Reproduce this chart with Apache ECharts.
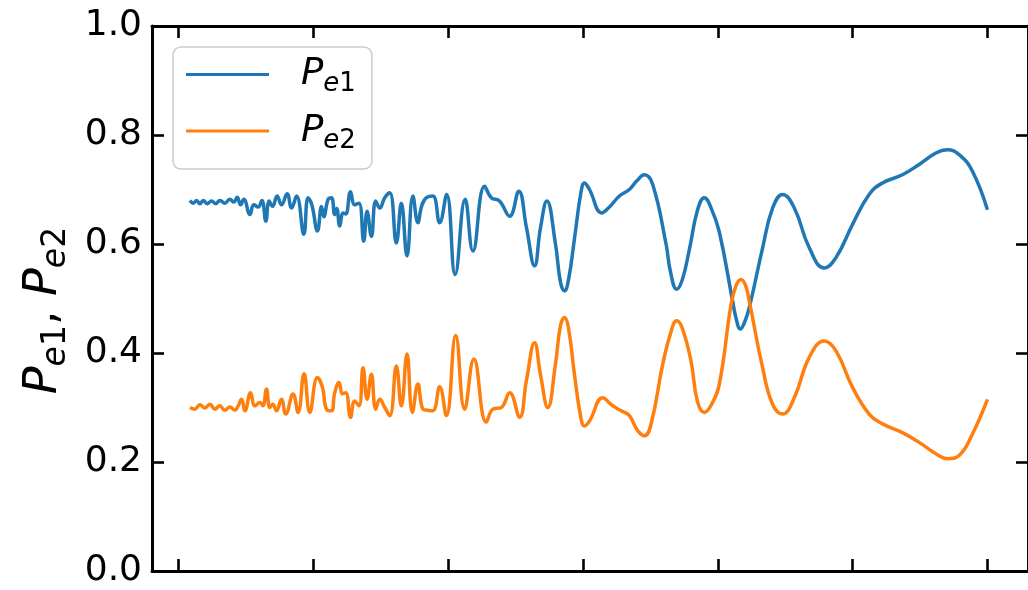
<!DOCTYPE html>
<html>
<head>
<meta charset="utf-8">
<title>Pe1, Pe2</title>
<script src="https://cdn.jsdelivr.net/npm/echarts@6/dist/echarts.min.js"></script>
<style>
  html, body { margin: 0; padding: 0; background: #ffffff; }
  #chart { width: 1028px; height: 590px; }
</style>
</head>
<body>
<div id="chart"></div>
<script>
// Occupation probabilities of the two emitters versus time (axis units).
const pe1X = [0.085,0.110,0.135,0.159,0.184,0.213,0.246,0.278,0.307,0.344,0.381,0.411,0.436,0.461,0.485,0.530,0.559,0.591,0.619,0.648,0.673,0.698,0.732,0.764,0.806,0.839,0.876,0.930,0.961,0.989,1.031,1.061,1.078,1.110,1.135,1.159,1.174,1.196,1.221,1.241,1.276,1.307,1.339,1.374,1.399,1.431,1.463,1.493,1.530,1.567,1.616,1.653,1.695,1.739,1.776,1.804,1.839,1.887,1.937,1.989,2.052,2.126,2.184,2.270,2.320,2.381,2.456,2.524,2.581,2.641,2.685,2.732,2.796,2.833,2.863,2.893,2.937,2.985,3.011,3.048,3.139,3.196,3.270,3.344,3.396,3.456,3.517,3.616,3.648,3.695,3.737,3.789,3.848,3.900,3.952,4.011,4.110,4.137,4.167,4.196,4.233,4.332,4.406,4.480,4.567,4.678,4.789,4.876,4.999,5.122,5.221,5.369,5.493,5.617,5.702,5.789,5.887,5.999];
const pe1Y = [0.680,0.675,0.680,0.674,0.680,0.674,0.679,0.674,0.680,0.675,0.682,0.677,0.686,0.672,0.682,0.654,0.672,0.668,0.680,0.642,0.679,0.669,0.688,0.672,0.692,0.666,0.688,0.618,0.685,0.672,0.624,0.669,0.650,0.682,0.685,0.654,0.665,0.633,0.657,0.655,0.696,0.672,0.675,0.605,0.660,0.614,0.679,0.666,0.685,0.694,0.602,0.675,0.578,0.688,0.639,0.670,0.685,0.688,0.639,0.691,0.544,0.682,0.587,0.706,0.685,0.679,0.651,0.697,0.630,0.560,0.630,0.679,0.600,0.530,0.514,0.535,0.610,0.695,0.712,0.700,0.657,0.668,0.688,0.700,0.715,0.727,0.709,0.600,0.550,0.517,0.535,0.590,0.661,0.685,0.665,0.622,0.495,0.462,0.444,0.455,0.483,0.593,0.666,0.691,0.666,0.593,0.556,0.575,0.636,0.691,0.712,0.727,0.746,0.767,0.773,0.764,0.734,0.663];

const pe2X = [0.085,0.122,0.159,0.196,0.233,0.270,0.307,0.344,0.381,0.419,0.441,0.468,0.493,0.535,0.567,0.604,0.626,0.653,0.678,0.700,0.727,0.764,0.796,0.850,0.887,0.932,0.974,1.031,1.068,1.098,1.135,1.159,1.191,1.216,1.241,1.276,1.307,1.339,1.369,1.399,1.431,1.463,1.493,1.530,1.567,1.616,1.653,1.695,1.735,1.776,1.813,1.848,1.887,1.937,1.987,2.056,2.122,2.191,2.283,2.332,2.394,2.456,2.530,2.581,2.641,2.685,2.739,2.796,2.833,2.863,2.893,2.937,2.985,3.011,3.048,3.147,3.211,3.283,3.344,3.404,3.456,3.507,3.591,3.648,3.695,3.737,3.801,3.848,3.900,3.952,4.011,4.098,4.137,4.172,4.204,4.233,4.332,4.406,4.480,4.567,4.678,4.789,4.876,4.999,5.122,5.221,5.369,5.493,5.617,5.702,5.789,5.887,5.999];
const pe2Y = [0.300,0.297,0.305,0.299,0.306,0.297,0.303,0.295,0.301,0.295,0.302,0.315,0.294,0.327,0.303,0.309,0.303,0.334,0.300,0.306,0.294,0.315,0.288,0.325,0.291,0.362,0.291,0.355,0.337,0.297,0.294,0.327,0.346,0.325,0.327,0.282,0.312,0.303,0.373,0.315,0.361,0.297,0.315,0.300,0.285,0.376,0.303,0.398,0.291,0.343,0.297,0.295,0.294,0.338,0.285,0.432,0.297,0.389,0.273,0.297,0.300,0.327,0.282,0.350,0.419,0.360,0.300,0.380,0.450,0.465,0.445,0.360,0.280,0.266,0.275,0.318,0.305,0.294,0.285,0.258,0.248,0.272,0.379,0.435,0.459,0.445,0.385,0.312,0.291,0.305,0.343,0.489,0.525,0.535,0.525,0.495,0.373,0.306,0.288,0.318,0.392,0.422,0.404,0.337,0.288,0.270,0.254,0.236,0.215,0.206,0.212,0.251,0.315];

const xTicks = [0, 1, 2, 3, 4, 5, 6];
const yTicks = [0.0, 0.2, 0.4, 0.6, 0.8, 1.0];
const seriesNames = ['Pe1', 'Pe2'];
const subscripts = { Pe1: '1', Pe2: '2' };

const FONT = 'DejaVu Sans';
const BLACK = '#000000';

function pairs(xs, ys) {
  return xs.map((x, i) => [x, ys[i]]);
}

// Rich-text styles for an italic P with a lowered subscript.
function mathStyles(main, sub, line) {
  return {
    sp: { width: 27, lineHeight: line },
    p: { fontFamily: FONT, fontStyle: 'italic', fontSize: main, lineHeight: line, color: BLACK },
    e: { fontFamily: FONT, fontStyle: 'italic', fontSize: sub, lineHeight: sub, verticalAlign: 'bottom', color: BLACK },
    n: { fontFamily: FONT, fontSize: sub, lineHeight: sub, verticalAlign: 'bottom', color: BLACK },
    c: { fontFamily: FONT, fontSize: main, lineHeight: line, color: BLACK }
  };
}

const tickStyle = { show: true, inside: true, length: 12, lineStyle: { color: BLACK, width: 2.6 } };
const lineStyle = { show: true, onZero: false, lineStyle: { color: BLACK, width: 3 } };

const chart = echarts.init(document.getElementById('chart'), null, { renderer: 'canvas' });

chart.setOption({
  animation: false,
  backgroundColor: '#ffffff',
  grid: { left: 152, top: 26, width: 877, height: 545, containLabel: false },
  legend: {
    data: seriesNames,
    orient: 'vertical',
    left: 173,
    top: 47,
    padding: [9, 16, 15, 13],
    itemGap: 15,
    itemWidth: 83,
    itemHeight: 3,
    icon: 'rect',
    backgroundColor: 'rgba(255,255,255,0.8)',
    borderColor: '#cccccc',
    borderWidth: 1.5,
    borderRadius: 8,
    formatter: name => '{sp|}{p|P}{e|e}{n|' + subscripts[name] + '}',
    textStyle: { rich: mathStyles(37, 26, 46) }
  },
  xAxis: [
    {
      type: 'value', position: 'bottom', min: -0.196, max: 6.3,
      axisLine: lineStyle,
      axisTick: Object.assign({ customValues: xTicks }, tickStyle),
      axisLabel: { show: false },
      splitLine: { show: false }
    },
    {
      type: 'value', position: 'top', min: -0.196, max: 6.3,
      axisLine: lineStyle,
      axisTick: Object.assign({ customValues: xTicks }, tickStyle),
      axisLabel: { show: false },
      splitLine: { show: false }
    }
  ],
  yAxis: [
    {
      type: 'value', position: 'left', min: 0, max: 1, interval: 0.2,
      axisLine: lineStyle,
      axisTick: tickStyle,
      axisLabel: {
        show: true, margin: 10, color: BLACK, fontFamily: FONT, fontSize: 36,
        customValues: yTicks,
        formatter: v => v.toFixed(1)
      },
      splitLine: { show: false },
      name: '{p|P}{e|e}{n|1}{c|, }{p|P}{e|e}{n|2}',
      nameLocation: 'middle',
      nameRotate: 90,
      nameGap: 79,
      nameTextStyle: { rich: mathStyles(46, 33, 57), padding: [0, 24, 0, 0] }
    },
    {
      type: 'value', position: 'right', min: 0, max: 1, interval: 0.2,
      axisLine: lineStyle,
      axisTick: tickStyle,
      axisLabel: { show: false },
      splitLine: { show: false }
    }
  ],
  series: [
    {
      name: seriesNames[0], type: 'line', data: pairs(pe1X, pe1Y),
      xAxisIndex: 0, yAxisIndex: 0,
      showSymbol: false, smooth: 0.45,
      lineStyle: { color: '#1f77b4', width: 3.5 },
      itemStyle: { color: '#1f77b4' }
    },
    {
      name: seriesNames[1], type: 'line', data: pairs(pe2X, pe2Y),
      xAxisIndex: 0, yAxisIndex: 0,
      showSymbol: false, smooth: 0.45,
      lineStyle: { color: '#ff7f0e', width: 3.5 },
      itemStyle: { color: '#ff7f0e' }
    }
  ]
});
</script>
</body>
</html>
